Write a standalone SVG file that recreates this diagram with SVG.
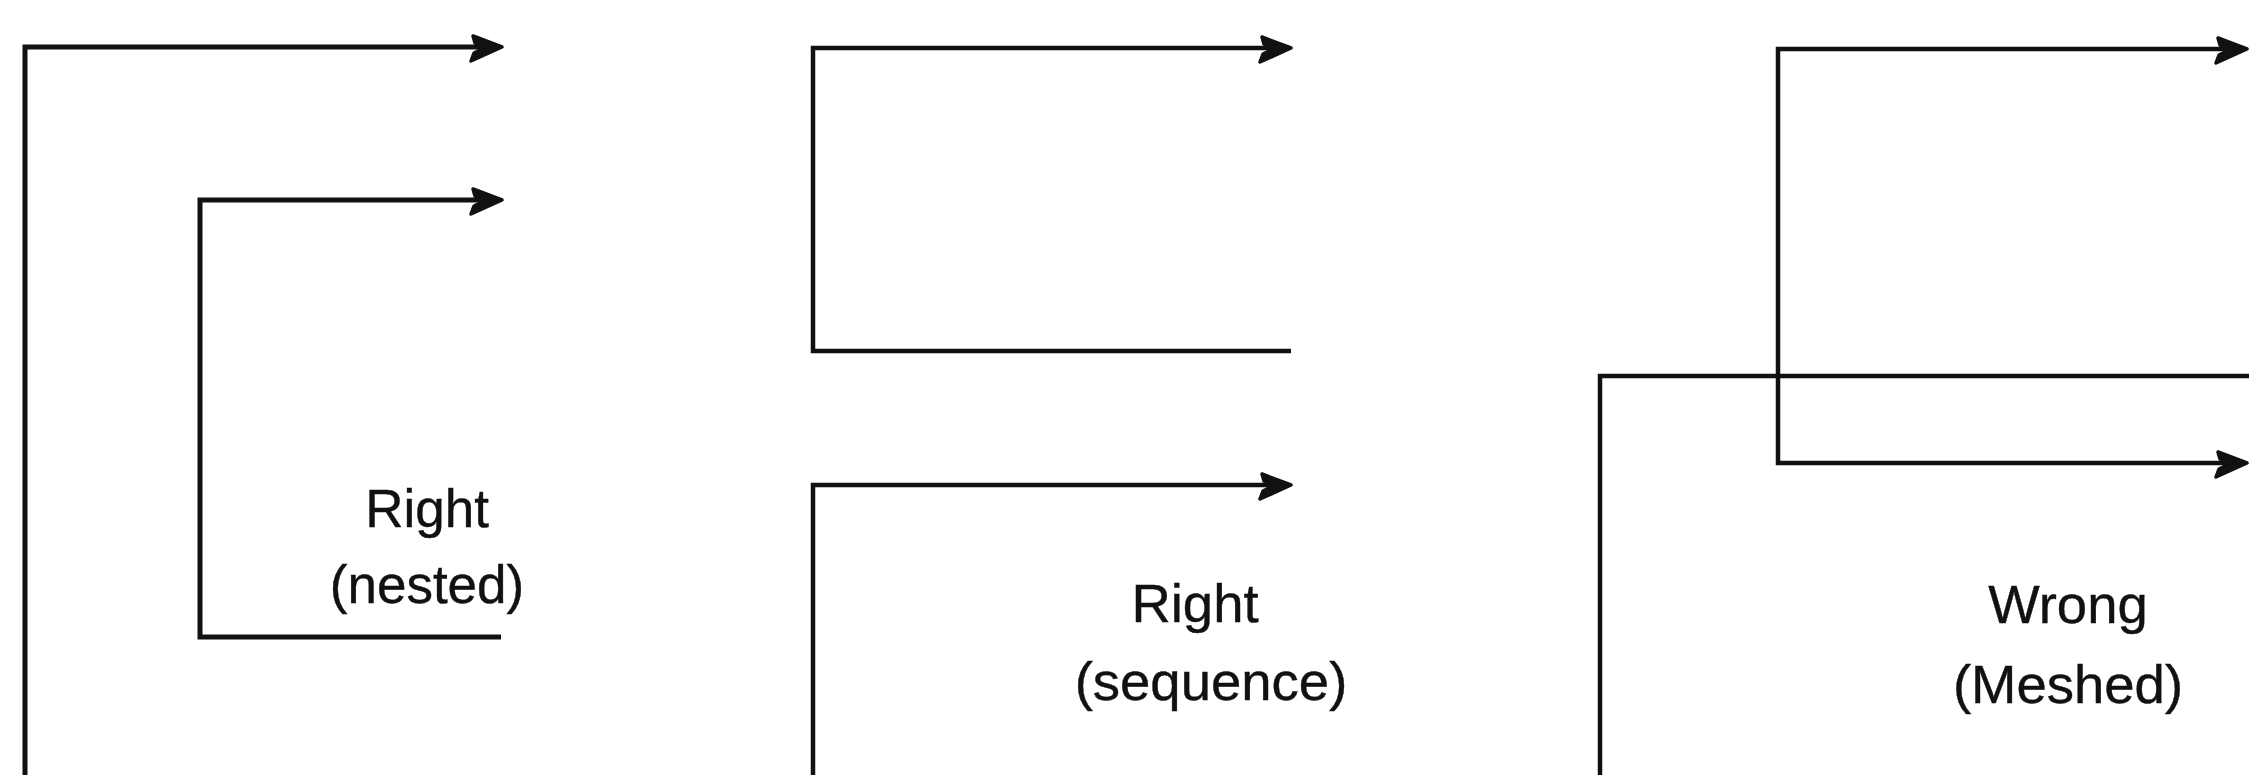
<svg xmlns="http://www.w3.org/2000/svg" width="2249" height="775" viewBox="0 0 2249 775">
  <style>
    .ln { fill: none; stroke: #111; stroke-width: 5; stroke-linejoin: miter; }
    .thin { stroke-width: 4.5; }
    .lbl { font-family: "Liberation Sans", Arial, sans-serif; font-size: 53px; fill: #111; text-anchor: middle; stroke: #111; stroke-width: 0.4; }
    .big { font-size: 54.5px; }
  </style>
  <defs>
    <marker id="arr" viewBox="-36 -20 44 40" refX="0" refY="0" markerWidth="44" markerHeight="40" markerUnits="userSpaceOnUse" orient="auto-start-reverse">
      <path d="M 2 0 L -27 -11 L -25 -4 L -14 0 L -26 6 L -29 14 Z" fill="#111" stroke="#111" stroke-width="3.5" stroke-linejoin="round"/>
    </marker>
  </defs>
  <rect width="2249" height="775" fill="#ffffff"/>
  <g id="connectors">
    <path class="ln" d="M 25 775 V 47 H 500" marker-end="url(#arr)"/>
    <path class="ln" d="M 501 637 H 200 V 200 H 500" marker-end="url(#arr)"/>
    <path class="ln thin" d="M 1291 351 H 813 V 48 H 1289" marker-end="url(#arr)"/>
    <path class="ln thin" d="M 813 775 V 485 H 1289" marker-end="url(#arr)"/>
    <path class="ln thin" d="M 2245 463 H 1778 V 49 H 2245" marker-start="url(#arr)" marker-end="url(#arr)"/>
    <path class="ln thin" d="M 1600 775 V 376 H 2249"/>
  </g>
  <g id="label-nested">
    <text class="lbl" x="427" y="527">Right</text>
    <text class="lbl" x="427" y="603">(nested)</text>
  </g>
  <g id="label-sequence">
    <text class="lbl big" x="1195" y="622">Right</text>
    <text class="lbl big" x="1211" y="700">(sequence)</text>
  </g>
  <g id="label-meshed">
    <text class="lbl big" x="2068" y="623">Wrong</text>
    <text class="lbl big" x="2068" y="703">(Meshed)</text>
  </g>
</svg>
